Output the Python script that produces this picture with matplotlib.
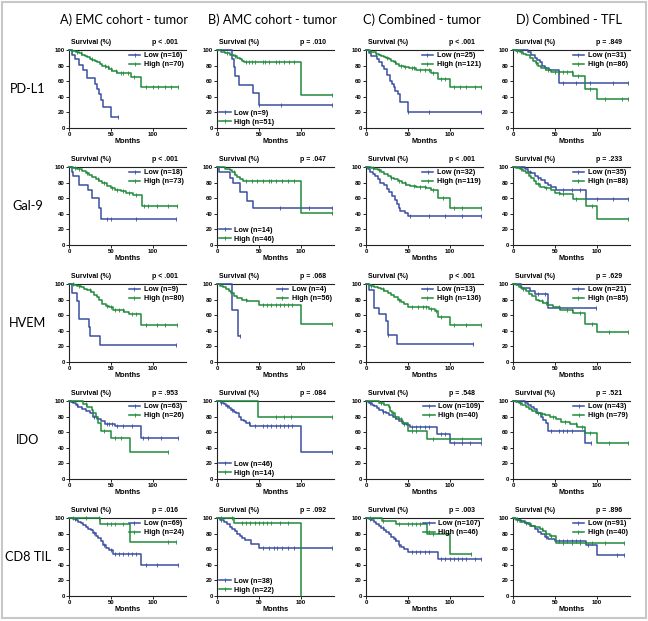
import numpy as np
import matplotlib
matplotlib.use("Agg")
import matplotlib.pyplot as plt
from matplotlib.lines import Line2D
from matplotlib.patches import Rectangle

# ---------------- data ----------------
ROW_LABELS = ["PD-L1", "Gal-9", "HVEM", "IDO", "CD8 TIL"]
COL_TITLES = ["A) EMC cohort - tumor", "B) AMC cohort - tumor",
              "C) Combined - tumor", "D) Combined - TFL"]
P_VALUES = [["p < .001", "p = .010", "p < .001", "p = .849"],
            ["p < .001", "p = .047", "p < .001", "p = .233"],
            ["p < .001", "p = .068", "p < .001", "p = .629"],
            ["p = .953", "p = .084", "p = .548", "p = .521"],
            ["p = .016", "p = .092", "p = .003", "p = .896"]]
N_LOW = [[16, 9, 25, 31], [18, 14, 32, 35], [9, 4, 13, 21], [63, 46, 109, 43], [69, 38, 107, 91]]
N_HIGH = [[70, 51, 121, 86], [73, 46, 119, 88], [80, 56, 136, 85], [26, 14, 40, 79], [24, 22, 46, 40]]

# Kaplan-Meier curves: event times (months), survival after each event (%), last follow-up, censor times
PDL1_A_LOW = dict(t=[3, 7, 12, 17, 22, 31, 33, 36, 38, 41, 50], s=[94, 88, 81, 75, 64, 57, 50, 43, 36, 27, 14], end=59, cens=[59])
PDL1_A_HIGH = dict(t=[3, 8, 12, 16, 19, 22, 25, 28, 31, 34, 37, 40, 44, 48, 52, 58, 74, 86],
                   s=[98.6, 97, 95.7, 94, 92.6, 91, 89, 87.5, 86, 84, 82, 80, 78, 76, 73, 71, 66, 52.5], end=130,
                   cens=[4, 9, 14, 27, 43, 47, 50, 56, 62, 65, 70, 78, 92, 100, 107, 115, 122, 130])
PDL1_B_LOW = dict(t=[18, 20, 22, 26, 43, 50], s=[88.9, 77.8, 66.7, 55.6, 44.4, 29.6], end=138, cens=[50, 76, 138])
PDL1_B_HIGH = dict(t=[5, 10, 15, 20, 24, 27, 30, 32, 100], s=[98, 96, 94, 92, 90, 88, 86, 84, 42], end=138,
                   cens=[12, 22, 35, 38, 42, 46, 55, 58, 62, 70, 74, 80, 86, 92, 138])
PDL1_C_LOW = dict(t=[4, 6, 13, 16, 19, 21, 25, 29, 31, 33, 35, 38, 41, 50],
                  s=[96, 92, 88, 84, 80, 76, 68, 60, 56, 52, 48, 44, 33, 20], end=138, cens=[50, 75, 138])
PDL1_C_HIGH = dict(t=[3, 6, 9, 12, 15, 18, 21, 24, 27, 30, 33, 36, 40, 45, 52, 60, 78, 86, 100],
                   s=[99, 98, 97, 95.5, 94, 92.5, 91, 89.5, 88, 86, 84, 82, 80, 78.5, 77, 75, 70, 63, 52.5], end=138,
                   cens=[5, 12, 25, 35, 42, 47, 55, 58, 65, 70, 75, 80, 90, 95, 105, 112, 120, 130, 138])
PDL1_D_LOW = dict(t=[18, 22, 26, 29, 32, 35, 38, 43, 55], s=[97, 94, 90, 87, 84, 80, 77, 74, 58], end=138,
                  cens=[60, 75, 92, 120, 138])
PDL1_D_HIGH = dict(t=[4, 8, 12, 16, 20, 24, 27, 30, 34, 40, 46, 72, 86, 100],
                   s=[98.5, 97, 95, 93, 90, 86, 83, 80, 77, 75, 72, 67, 50, 37.5], end=138,
                   cens=[5, 10, 28, 38, 42, 50, 55, 60, 65, 70, 78, 92, 110, 130, 138])

GAL9_A_LOW = dict(t=[3, 5, 12, 23, 27, 36, 38], s=[94, 89, 77, 71, 60, 47, 33], end=128, cens=[45, 50, 80, 128])
GAL9_A_HIGH = dict(t=[5, 10, 15, 20, 24, 28, 32, 36, 40, 45, 50, 55, 62, 68, 76, 87],
                   s=[99, 97, 95, 92, 89.5, 87, 84.5, 82, 79, 76, 73.5, 71, 69, 67, 63.5, 50], end=129,
                   cens=[7, 12, 22, 35, 42, 52, 58, 65, 72, 80, 90, 95, 105, 118, 129])
GAL9_B_LOW = dict(t=[2, 16, 19, 27, 36, 43], s=[93, 86, 79, 68, 57, 48], end=138, cens=[75, 110, 138])
GAL9_B_HIGH = dict(t=[10, 15, 18, 21, 24, 28, 31, 100], s=[98, 96, 93, 90, 87, 84, 82, 41], end=138,
                   cens=[20, 35, 42, 48, 55, 62, 65, 70, 78, 85, 92, 138])
GAL9_C_LOW = dict(t=[2, 5, 8, 11, 14, 17, 21, 25, 28, 31, 35, 37, 39, 41, 47, 50],
                  s=[97, 94, 91, 88, 84, 80, 77, 72, 68, 63, 58, 52, 47, 43, 41, 37.5], end=138,
                  cens=[53, 75, 95, 115, 138])
GAL9_C_HIGH = dict(t=[6, 10, 14, 18, 22, 26, 30, 34, 38, 43, 48, 53, 60, 72, 78, 86, 100],
                   s=[99, 97.5, 96, 93.5, 91, 88, 86, 84, 82, 79, 77, 75.5, 74, 72.5, 70, 60, 47], end=138,
                   cens=[8, 16, 30, 40, 47, 57, 65, 70, 80, 92, 105, 115, 138])
GAL9_D_LOW = dict(t=[14, 18, 22, 26, 30, 34, 38, 42, 46, 51, 87], s=[97, 94, 92, 89, 86, 83, 80, 77, 74, 71, 59],
                  end=138, cens=[20, 30, 60, 70, 80, 100, 120, 138])
GAL9_D_HIGH = dict(t=[4, 8, 12, 16, 19, 22, 25, 28, 32, 38, 45, 50, 56, 72, 87, 100],
                   s=[98.5, 97, 95, 92, 89, 86, 82, 78, 75, 73, 70, 67, 65, 59, 50, 33], end=138,
                   cens=[10, 30, 40, 55, 60, 75, 95, 138])

HVEM_A_LOW = dict(t=[4, 10, 12, 24, 25, 37], s=[88.9, 77.8, 55.6, 44.4, 33.3, 22.2], end=128, cens=[128])
HVEM_A_HIGH = dict(t=[6, 10, 14, 18, 22, 26, 30, 33, 36, 40, 44, 48, 53, 66, 72, 86],
                   s=[99, 97.5, 96, 94, 92, 89.5, 86, 83, 79, 75, 72, 70, 67, 64, 61, 48], end=129,
                   cens=[5, 12, 25, 45, 50, 55, 60, 65, 75, 80, 92, 105, 115, 129])
HVEM_B_LOW = dict(t=[18, 25], s=[67, 33], end=28, cens=[28])
HVEM_B_HIGH = dict(t=[3, 7, 11, 14, 17, 20, 24, 30, 36, 50, 100], s=[98, 96, 94, 91, 88, 85, 82, 80, 78, 73, 49],
                   end=138, cens=[35, 55, 60, 65, 70, 75, 80, 85, 90, 138])
HVEM_C_LOW = dict(t=[4, 9, 15, 24, 26, 37], s=[92, 69, 61, 52, 35, 23], end=128, cens=[26, 128])
HVEM_C_HIGH = dict(t=[3, 6, 10, 14, 18, 22, 26, 30, 34, 38, 42, 46, 50, 60, 75, 82, 86, 100],
                   s=[99, 98, 96.5, 95, 93, 91, 88.5, 86, 83, 80, 77, 74, 71, 70, 68, 66, 58, 48], end=138,
                   cens=[6, 20, 40, 55, 62, 68, 72, 78, 84, 90, 105, 120, 138])
HVEM_D_LOW = dict(t=[10, 20, 26, 42], s=[95, 91, 87, 69], end=99, cens=[30, 38, 99])
HVEM_D_HIGH = dict(t=[3, 7, 11, 15, 19, 23, 27, 31, 36, 42, 48, 56, 72, 86, 100],
                   s=[98.5, 96.5, 94, 91, 87.5, 84, 80, 78, 76, 73, 70, 67, 63, 49, 39], end=138,
                   cens=[12, 35, 40, 55, 65, 70, 80, 95, 115, 138])

IDO_A_LOW = dict(t=[2, 5, 8, 11, 15, 20, 25, 29, 33, 38, 43, 55, 86],
                 s=[98.5, 97, 95, 92, 89.5, 87, 84, 80, 77, 74, 71, 68, 52], end=130,
                 cens=[10, 30, 45, 48, 52, 58, 65, 75, 88, 95, 110, 130])
IDO_A_HIGH = dict(t=[17, 22, 27, 29, 32, 35, 38, 50, 73], s=[96, 92, 88, 84, 80, 72, 62, 53, 35], end=118,
                  cens=[20, 42, 55, 62, 118])
IDO_B_LOW = dict(t=[5, 8, 11, 14, 17, 20, 23, 26, 29, 32, 35, 40, 100],
                 s=[98, 96, 93, 91, 89, 86, 84, 80, 76, 74, 72, 68, 34], end=138,
                 cens=[5, 12, 18, 38, 45, 55, 60, 65, 70, 75, 80, 85, 90, 138])
IDO_B_HIGH = dict(t=[49], s=[80], end=138, cens=[70, 80, 88, 138])
IDO_C_LOW = dict(t=[2, 4, 7, 10, 13, 16, 20, 24, 28, 32, 36, 40, 44, 49, 53, 85, 100],
                 s=[99, 97.5, 95.5, 93, 91, 89, 86.5, 84, 82, 80, 77, 74, 71, 69, 67, 58, 46], end=138,
                 cens=[5, 20, 35, 45, 55, 60, 65, 70, 75, 90, 95, 105, 115, 125, 138])
IDO_C_HIGH = dict(t=[15, 22, 27, 29, 31, 35, 39, 43, 50, 73], s=[97.5, 95, 92, 87.5, 85, 80, 77, 72, 62, 51],
                  end=138, cens=[18, 32, 42, 55, 60, 80, 100, 115, 138])
IDO_D_LOW = dict(t=[14, 18, 21, 25, 29, 33, 36, 39, 42, 86], s=[97.5, 95, 92.5, 90, 85, 80, 76, 72, 62, 46],
                 end=93, cens=[45, 55, 60, 65, 70, 93])
IDO_D_HIGH = dict(t=[3, 7, 11, 15, 19, 23, 28, 33, 38, 44, 52, 58, 68, 76, 86, 100],
                  s=[98.7, 97, 95, 92.5, 90, 87.5, 85, 83, 81.5, 80, 77, 73, 71, 67, 59, 46.5], end=138,
                  cens=[8, 30, 35, 48, 62, 75, 82, 92, 115, 138])

CD8_A_LOW = dict(t=[5, 8, 11, 14, 17, 20, 23, 26, 29, 32, 35, 38, 41, 44, 48, 53, 86],
                 s=[98.5, 97, 95.5, 93, 91, 88, 86, 84, 81, 77, 74, 70, 66, 62, 59, 54, 40], end=130,
                 cens=[7, 30, 42, 50, 55, 60, 65, 70, 75, 80, 92, 105, 130])
CD8_A_HIGH = dict(t=[37, 73], s=[92, 69], end=128, cens=[5, 20, 36, 45, 50, 55, 65, 118, 128])
CD8_B_LOW = dict(t=[4, 8, 12, 15, 18, 21, 24, 27, 30, 34, 41, 50], s=[97, 95, 92, 89, 86, 83, 80, 77, 74, 72, 67, 61],
                 end=138, cens=[5, 55, 62, 68, 72, 78, 85, 92, 138])
CD8_B_HIGH = dict(t=[20, 100], s=[93, 0], end=100, cens=[5, 18, 30, 35, 40, 45, 50, 55, 60, 65, 75, 85])
CD8_C_LOW = dict(t=[3, 6, 9, 12, 15, 18, 21, 24, 27, 30, 33, 36, 39, 42, 46, 50, 86],
                 s=[98.5, 97, 95, 92.5, 90, 87.5, 85, 82, 79, 76, 73, 70, 66, 63, 60, 57, 48], end=138,
                 cens=[5, 20, 35, 40, 55, 60, 65, 70, 75, 90, 95, 100, 105, 110, 115, 120, 130, 138])
CD8_C_HIGH = dict(t=[19, 36, 73, 100], s=[96, 92, 80, 54], end=126, cens=[5, 20, 40, 50, 55, 60, 65, 80, 126])
CD8_D_LOW = dict(t=[2, 6, 10, 14, 18, 22, 26, 30, 34, 38, 42, 50, 87, 100],
                 s=[99, 97.5, 96, 94, 92, 89.5, 86, 82, 79, 76, 73, 71, 66, 53], end=133,
                 cens=[5, 15, 40, 55, 60, 65, 70, 75, 80, 90, 125, 133])
CD8_D_HIGH = dict(t=[3, 8, 14, 20, 26, 32, 36, 40, 44, 51], s=[98, 95.5, 93, 90, 88, 86, 83, 80, 77, 68], end=133,
                  cens=[5, 35, 40, 45, 60, 70, 80, 95, 110, 133])

CURVES = [
    [(PDL1_A_LOW, PDL1_A_HIGH), (PDL1_B_LOW, PDL1_B_HIGH), (PDL1_C_LOW, PDL1_C_HIGH), (PDL1_D_LOW, PDL1_D_HIGH)],
    [(GAL9_A_LOW, GAL9_A_HIGH), (GAL9_B_LOW, GAL9_B_HIGH), (GAL9_C_LOW, GAL9_C_HIGH), (GAL9_D_LOW, GAL9_D_HIGH)],
    [(HVEM_A_LOW, HVEM_A_HIGH), (HVEM_B_LOW, HVEM_B_HIGH), (HVEM_C_LOW, HVEM_C_HIGH), (HVEM_D_LOW, HVEM_D_HIGH)],
    [(IDO_A_LOW, IDO_A_HIGH), (IDO_B_LOW, IDO_B_HIGH), (IDO_C_LOW, IDO_C_HIGH), (IDO_D_LOW, IDO_D_HIGH)],
    [(CD8_A_LOW, CD8_A_HIGH), (CD8_B_LOW, CD8_B_HIGH), (CD8_C_LOW, CD8_C_HIGH), (CD8_D_LOW, CD8_D_HIGH)],
]
# legend placement per panel
LEGEND_LOC = [["upper right", "lower left", "upper right", "upper right"],
              ["upper right", "lower left", "upper right", "upper right"],
              ["upper right", "upper right", "upper right", "upper right"],
              ["upper right", "lower left", "upper right", "upper right"],
              ["upper right", "lower left", "upper right", "upper right"]]

# ---------------- style ----------------
BLUE = "#3a4ea0"
GREEN = "#1f8a3b"
W, H = 648, 621
COL_LEFT = [69, 217, 366, 513]
ROW_TOP = [50, 167, 284, 401, 518]
AX_W, AX_H = 117, 78
SMALL = ["Liberation Sans", "DejaVu Sans"]
BIG = ["Lato", "DejaVu Sans"]

fig = plt.figure(figsize=(W / 100, H / 100), dpi=100)
fig.patches.append(Rectangle((2 / W, 3 / H), (W - 4) / W, (H - 5) / H, transform=fig.transFigure,
                             fill=False, edgecolor="#c8c8c8", lw=1.5))


def km_xy(c):
    x = [0] + list(c["t"]) + [c["end"]]
    y = [100] + list(c["s"]) + [c["s"][-1]]
    return np.array(x, float), np.array(y, float)


def censor_y(c, times):
    x, y = km_xy(c)
    idx = np.searchsorted(x, times, side="right") - 1
    return y[np.clip(idx, 0, len(y) - 1)]


for r in range(5):
    for ci in range(4):
        left = COL_LEFT[ci]
        top = ROW_TOP[r]
        ax = fig.add_axes([left / W, 1 - (top + AX_H) / H, AX_W / W, AX_H / H])
        ax.set_xlim(0, 140)
        ax.set_ylim(0, 100)
        for name, color in zip(["low", "high"], [BLUE, GREEN]):
            c = CURVES[r][ci][0 if name == "low" else 1]
            x, y = km_xy(c)
            ax.step(x, y, where="post", color=color, lw=1.1, clip_on=False, zorder=3)
            ct = np.array(c["cens"], float)
            ax.plot(ct, censor_y(c, ct), ls="none", marker="|", ms=2.6, mew=0.6, color=color,
                    clip_on=False, zorder=3)
        for sp in ["left", "bottom", "top"]:
            ax.spines[sp].set_linewidth(0.8)
            ax.spines[sp].set_color("#222222")
        ax.spines["right"].set_visible(False)
        ax.set_xticks([0, 50, 100])
        ax.set_yticks([0, 20, 40, 60, 80, 100])
        ax.tick_params(length=2, width=0.6, pad=1, labelsize=4.3)
        ax.tick_params(top=False, right=False)
        for lab in ax.get_xticklabels() + ax.get_yticklabels():
            lab.set_fontfamily(SMALL)
            lab.set_fontweight("bold")
        ax.set_xlabel("Months", fontsize=5.3, fontweight="bold", family=SMALL, labelpad=0.5)
        ax.text(0.02, 1.09, "Survival (%)", transform=ax.transAxes, fontsize=5.0, fontweight="bold",
                family=SMALL, va="center", ha="left")
        ax.text(0.93, 1.09, P_VALUES[r][ci], transform=ax.transAxes, fontsize=5.0, fontweight="bold",
                family=SMALL, va="center", ha="right")
        handles = [Line2D([], [], color=BLUE, lw=1.1, marker="|", ms=2.6, mew=0.6),
                   Line2D([], [], color=GREEN, lw=1.1, marker="|", ms=2.6, mew=0.6)]
        labels = [f"Low (n={N_LOW[r][ci]})", f"High (n={N_HIGH[r][ci]})"]
        ax.legend(handles, labels, loc=LEGEND_LOC[r][ci], frameon=False, numpoints=1,
                  prop=dict(family=SMALL, weight="bold", size=5.2), handlelength=1.6,
                  handletextpad=0.5, labelspacing=0.25, borderaxespad=0.1, borderpad=0.2)

for ci, title in enumerate(COL_TITLES):
    fig.text((COL_LEFT[ci] + AX_W / 2 - 3) / W, 1 - 20 / H, title, ha="center", va="center",
             fontsize=9.2, family=BIG)
for r, lab in enumerate(ROW_LABELS):
    fig.text(28 / W, 1 - (ROW_TOP[r] + AX_H / 2) / H, lab, ha="center", va="center",
             fontsize=9.2, family=BIG)

fig.savefig("out.png", dpi=100)
